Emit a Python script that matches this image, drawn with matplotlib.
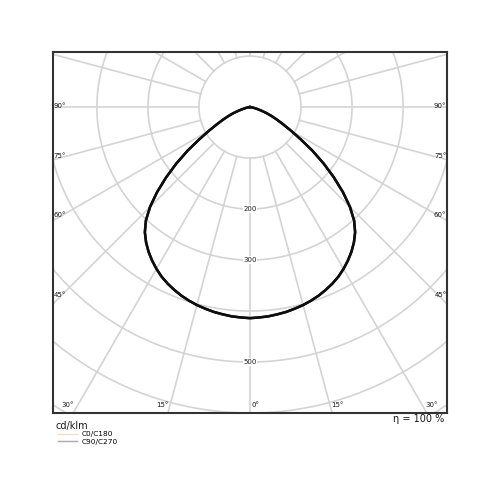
import numpy as np
import matplotlib
matplotlib.use('agg')
import matplotlib.pyplot as plt
from matplotlib.lines import Line2D

# luminous intensity distribution, cd/klm, gamma measured from nadir
gamma = [0, 2.5, 5, 7.5, 10, 12.5, 15, 17.5, 20, 22.5, 25, 27.5, 30, 32.5, 35, 37.5, 40,
         42.5, 45, 47.5, 50, 52.5, 55, 57.5, 60, 62.5, 65, 67.5, 70, 72.5, 75, 77.5, 80,
         82.5, 85, 87.5, 90]
intens_c0 = [414, 413, 412, 410, 408, 405, 402, 398, 393.5, 388, 382, 375, 366.5, 357, 346.5,
             334.5, 320.5, 302, 277, 247, 214.5, 182, 149.5, 118, 93, 73, 58, 45.5, 34, 23,
             15, 9, 5, 2.5, 1, 0.3, 0]
intens_c90 = [414, 413, 412, 410, 408, 405, 402, 398, 393.5, 388, 382, 375, 366.5, 357, 346.5,
              334.5, 320.5, 302, 277, 247, 214.5, 182, 149.5, 118, 93, 73, 58, 45.5, 34, 23,
              15, 9, 5, 2.5, 1, 0.3, 0]

ring_values = [100, 200, 300, 400, 500, 600, 700]
ring_labels = [200, 300, 500]
side_angles = [90, 75, 60, 45]
bottom_angles = [30, 15, 0, 15, 30]
series_names = ['C0/C180', 'C90/C270']
efficiency = 100

grid_col = '#d4d4d4'
txt_col = '#1a1a1a'
fig = plt.figure(figsize=(5, 5), dpi=100)
ax = fig.add_axes([0.106, 0.174, 0.788, 0.722])
xmax = 386
ymin, ymax = -600, 108
ax.set_xlim(-xmax, xmax)
ax.set_ylim(ymin, ymax)
ax.set_xticks([])
ax.set_yticks([])
for s in ax.spines.values():
    s.set_color('#333333')
    s.set_linewidth(1.5)

# rings
t = np.linspace(0, 2 * np.pi, 400)
for r in ring_values:
    ax.plot(r * np.cos(t), r * np.sin(t), color=grid_col, lw=1.2, zorder=1)

# radial spokes every 15 deg starting at first ring
for a in range(0, 360, 15):
    ang = np.radians(a)
    ax.plot([100 * np.cos(ang), 1000 * np.cos(ang)], [100 * np.sin(ang), 1000 * np.sin(ang)],
            color=grid_col, lw=1.2, zorder=1)

# ring labels on the vertical axis
for v in ring_labels:
    ax.text(0, -v, str(v), fontsize=5, ha='center', va='center', color=txt_col, zorder=3,
            bbox=dict(facecolor='white', edgecolor='none', pad=0.5))

# angle labels at left/right edges
for a in side_angles:
    y = -xmax / np.tan(np.radians(a)) if a != 90 else 0
    yl = y + 3 + (90 - a) * 0.3
    ax.text(-xmax + 1, yl, '%d°' % a, fontsize=5, ha='left', va='center', color=txt_col, zorder=3)
    ax.text(xmax - 1, yl, '%d°' % a, fontsize=5, ha='right', va='center', color=txt_col, zorder=3)

# angle labels along the bottom edge
for i, a in enumerate(bottom_angles):
    sign = -1 if i < 2 else 1
    x = sign * (-ymin) * np.tan(np.radians(a)) + sign * 10
    ax.text(x, ymin + 16, '%d°' % a, fontsize=5, ha='center', va='center', color=txt_col, zorder=3)

# intensity curves
g = np.radians(np.array(gamma))
for vals, col in [(intens_c0, '#1a120a'), (intens_c90, '#0d0d0d')]:
    v = np.array(vals, dtype=float)
    xs = np.concatenate([-(v * np.sin(g))[::-1], (v * np.sin(g))[1:]])
    ys = np.concatenate([-(v * np.cos(g))[::-1], -(v * np.cos(g))[1:]])
    ax.plot(xs, ys, color=col, lw=1.8, zorder=4, solid_joinstyle='round')

fig.text(0.11, 0.148, 'cd/klm', fontsize=7, color=txt_col, va='center')
fig.text(0.888, 0.161, 'η = %d %%' % efficiency, fontsize=7, color=txt_col, ha='right', va='center')

handles = [Line2D([0], [0], color='#f6dcc4', lw=1),
           Line2D([0], [0], color='#b0a8a0', lw=1)]
fig.legend(handles, series_names, loc='upper left', bbox_to_anchor=(0.105, 0.148), frameon=False,
           fontsize=5.3, handlelength=2.6, handletextpad=0.6, labelspacing=0.15, borderpad=0.2)

fig.savefig('out.png', dpi=100)
